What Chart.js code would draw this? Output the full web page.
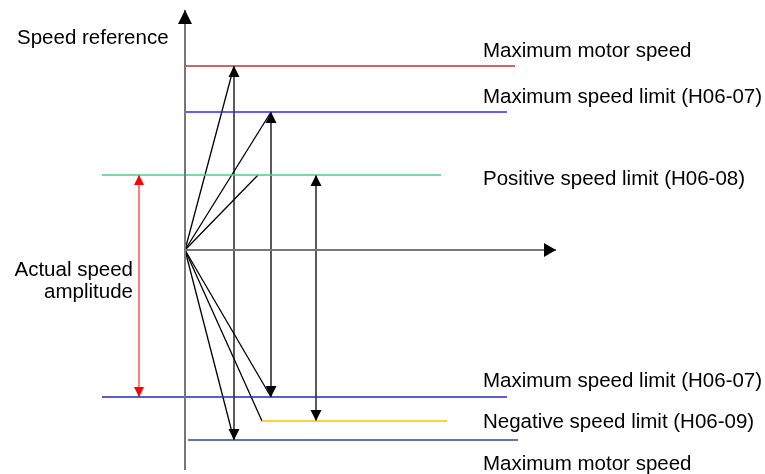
<!DOCTYPE html>
<html>
<head>
<meta charset="utf-8">
<script src="https://cdn.jsdelivr.net/npm/chart.js@4"></script>
<style>
  html, body { margin: 0; padding: 0; background: #fff; }
  #wrap { width: 765px; height: 474px; position: relative; }
</style>
</head>
<body>
<div id="wrap"><canvas id="c"></canvas></div>
<script>
// ---- data (speed units, origin = zero speed) ----
const levelNames = ['Maximum motor speed', 'Maximum speed limit (H06-07)', 'Positive speed limit (H06-08)',
  'Maximum speed limit (H06-07)', 'Negative speed limit (H06-09)', 'Maximum motor speed'];
const levels = [184, 138, 75, -147, -171, -190];
const levelFrom = [1, 1, -83, -83, 77, 3];
const levelTo = [330, 322, 256, 322, 262, 333];
const labelLevels = [199, 153, 71, -131, -172, -214];

// speed references: time position + upper / lower level index
const refX = [49, 86, 131];
const refTop = [0, 1, 2];
const refBottom = [5, 3, 4];

// ramps from origin to the limits
const rampX = [49, 86, 73, 49, 86, 77];
const rampY = [184, 138, 75, -190, -147, -171];

const ampX = -46;
const axisTop = 240, axisBottom = -220, axisRight = 371;

const levelColors = ['#b03a2e', '#2b2bf0', '#4ccf85', '#2626c8', '#ffc000', '#2c4a8c'];

// ---- datasets ----
const datasets = [];
datasets.push({ data: [{ x: 0, y: axisBottom }, { x: 0, y: axisTop }], borderColor: '#777', borderWidth: 2, arrow: 'end', head: [14, 14] });
datasets.push({ data: [{ x: 0, y: 0 }, { x: axisRight, y: 0 }], borderColor: '#777', borderWidth: 2, arrow: 'end', head: [14, 12] });
levels.forEach((lv, i) => {
  datasets.push({ data: [{ x: levelFrom[i], y: lv }, { x: levelTo[i], y: lv }], borderColor: levelColors[i], borderWidth: 1.5 });
});
rampX.forEach((x, i) => {
  datasets.push({ data: [{ x: 0, y: 0 }, { x: x, y: rampY[i] }], borderColor: '#000', borderWidth: 1.3 });
});
refX.forEach((x, i) => {
  datasets.push({ data: [{ x: x, y: levels[refBottom[i]] }, { x: x, y: levels[refTop[i]] }], borderColor: '#000', borderWidth: 1.3, arrow: 'both', head: [11, 11] });
});
datasets.push({ data: [{ x: ampX, y: levels[3] }, { x: ampX, y: levels[2] }], borderColor: '#ff5555', headColor: '#ff0000', borderWidth: 1.5, arrow: 'both', head: [10, 10] });

// ---- plugins ----
const arrows = {
  id: 'arrows',
  afterDatasetsDraw(chart) {
    const ctx = chart.ctx, xs = chart.scales.x, ys = chart.scales.y;
    chart.data.datasets.forEach(ds => {
      if (!ds.arrow) return;
      const p = ds.data.map(d => [xs.getPixelForValue(d.x), ys.getPixelForValue(d.y)]);
      const head = (tip, from) => {
        const a = Math.atan2(tip[1] - from[1], tip[0] - from[0]);
        const len = ds.head[1], w = ds.head[0] / 2;
        ctx.beginPath();
        ctx.moveTo(tip[0], tip[1]);
        ctx.lineTo(tip[0] - len * Math.cos(a) + w * Math.sin(a), tip[1] - len * Math.sin(a) - w * Math.cos(a));
        ctx.lineTo(tip[0] - len * Math.cos(a) - w * Math.sin(a), tip[1] - len * Math.sin(a) + w * Math.cos(a));
        ctx.closePath();
        ctx.fill();
      };
      ctx.save();
      ctx.fillStyle = ds.headColor || '#000';
      head(p[p.length - 1], p[0]);
      if (ds.arrow === 'both') head(p[0], p[p.length - 1]);
      ctx.restore();
    });
  }
};

const labels = {
  id: 'labels',
  afterDraw(chart) {
    const ctx = chart.ctx, xs = chart.scales.x, ys = chart.scales.y;
    ctx.save();
    ctx.font = '20.5px "Liberation Sans", Arial, sans-serif';
    ctx.fillStyle = '#000';
    ctx.textBaseline = 'middle';
    ctx.textAlign = 'left';
    levelNames.forEach((t, i) => ctx.fillText(t, xs.getPixelForValue(298), ys.getPixelForValue(labelLevels[i])));
    ctx.fillText('Speed reference', xs.getPixelForValue(-168), ys.getPixelForValue(212));
    ctx.textAlign = 'right';
    ctx.fillText('Actual speed', xs.getPixelForValue(-52), ys.getPixelForValue(-20));
    ctx.fillText('amplitude', xs.getPixelForValue(-52), ys.getPixelForValue(-42));
    ctx.restore();
  }
};

new Chart(document.getElementById('c'), {
  type: 'line',
  data: { datasets },
  options: {
    responsive: true,
    maintainAspectRatio: false,
    animation: false,
    layout: { padding: 0 },
    elements: { point: { radius: 0 }, line: { tension: 0 } },
    plugins: { legend: { display: false }, tooltip: { enabled: false } },
    scales: {
      x: { type: 'linear', min: -185, max: 580, display: false },
      y: { type: 'linear', min: -224, max: 250, display: false }
    }
  },
  plugins: [arrows, labels]
});
</script>
</body>
</html>
